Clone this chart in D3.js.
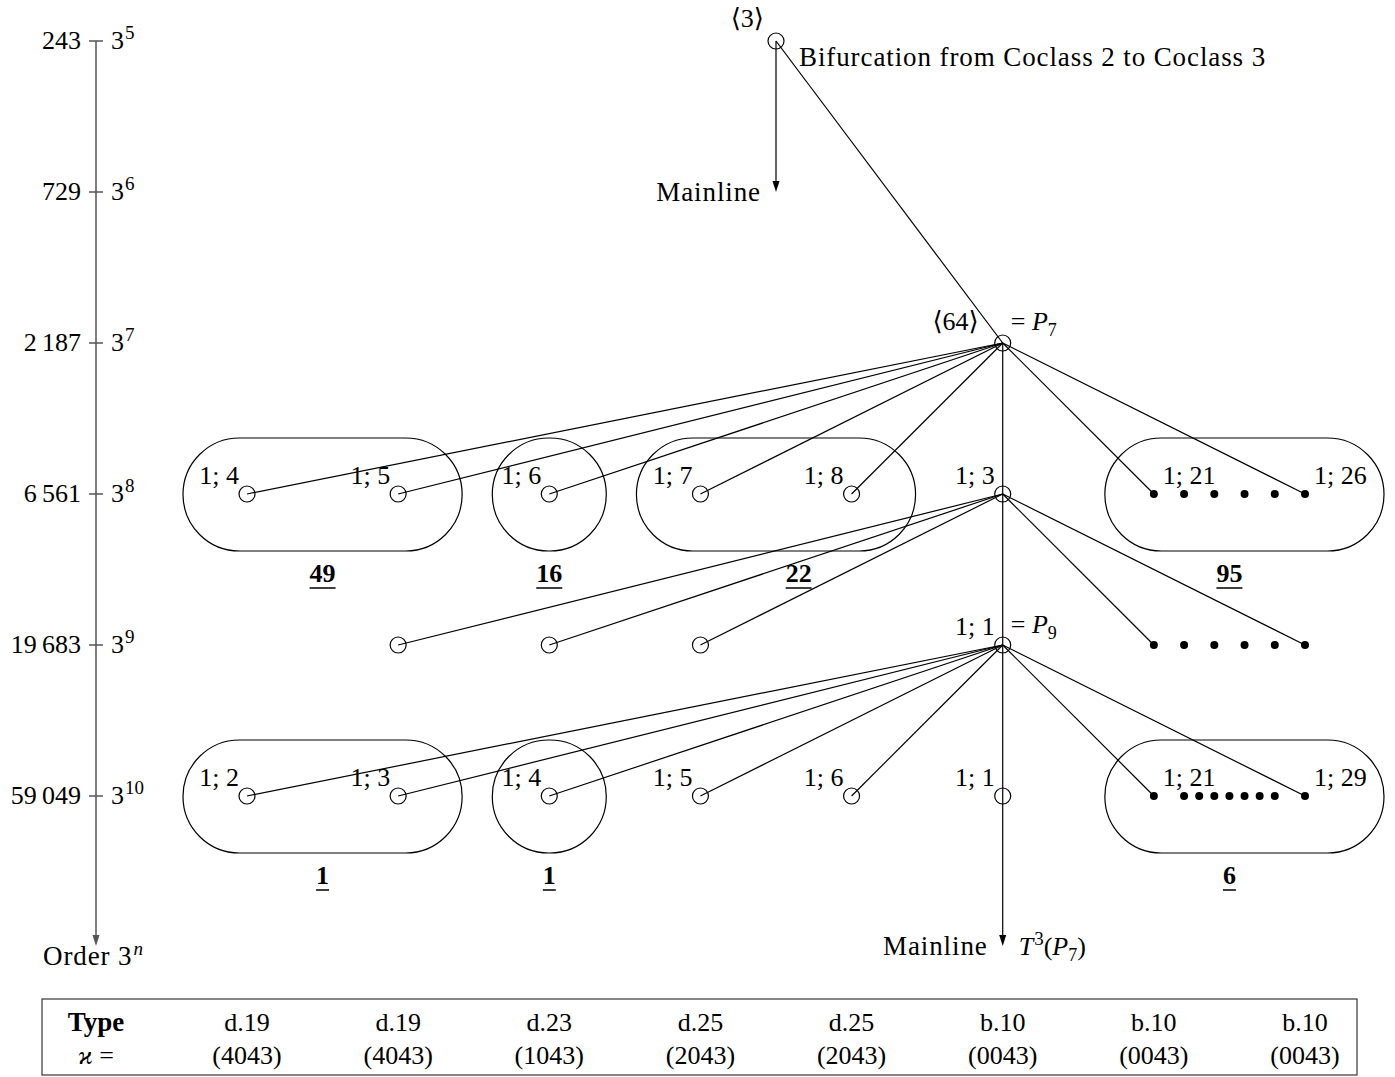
<!DOCTYPE html>
<meta charset="utf-8">
<head>
<style>
body { margin: 0; background: #fff; }
text {
  font-family: "Liberation Serif", "Times New Roman", "DejaVu Serif", serif;
  font-size: 26px;
  fill: #000;
}
.word { font-size: 27px; letter-spacing: 0.9px; }
.edge { stroke: #000; stroke-width: 1.2px; fill: none; }
.axis { stroke: #555; stroke-width: 1.5px; fill: none; }
.group { fill: none; stroke: #000; stroke-width: 1.2px; }
.node { fill: none; stroke: #000; stroke-width: 1.2px; }
.dot { fill: #000; }
.bold { font-weight: bold; }
</style>
<script src="https://cdn.jsdelivr.net/npm/d3@7"></script>
</head>
<body>
<svg id="chart" width="1395" height="1077"></svg>
<script>

// order levels 3^n and their values
var orderExp = [5, 6, 7, 8, 9, 10];
var orderNum = ["243", "729", "2\u2009187", "6\u2009561", "19\u2009683", "59\u2009049"];

// table below the tree, one entry per column
var typeNames = ["d.19", "d.19", "d.23", "d.25", "d.25", "b.10", "b.10", "b.10"];
var kappaVals = ["(4043)", "(4043)", "(1043)", "(2043)", "(2043)", "(0043)", "(0043)", "(0043)"];

// vertices: column, level (exponent), kind, label
var nodes = [
  {id: "C3",  col: 3.5, lev: 5,  kind: "open"},
  {id: "P7",  col: 5,   lev: 7,  kind: "open"},
  {id: "a4",  col: 0,   lev: 8,  kind: "open", label: "1; 4"},
  {id: "a5",  col: 1,   lev: 8,  kind: "open", label: "1; 5"},
  {id: "a6",  col: 2,   lev: 8,  kind: "open", label: "1; 6"},
  {id: "a7",  col: 3,   lev: 8,  kind: "open", label: "1; 7"},
  {id: "a8",  col: 4,   lev: 8,  kind: "open", label: "1; 8"},
  {id: "a3",  col: 5,   lev: 8,  kind: "open", label: "1; 3"},
  {id: "a21", col: 6,   lev: 8,  kind: "dot",  label: "1; 21"},
  {id: "a26", col: 7,   lev: 8,  kind: "dot",  label: "1; 26"},
  {id: "b1",  col: 1,   lev: 9,  kind: "open"},
  {id: "b2",  col: 2,   lev: 9,  kind: "open"},
  {id: "b3",  col: 3,   lev: 9,  kind: "open"},
  {id: "P9",  col: 5,   lev: 9,  kind: "open", label: "1; 1"},
  {id: "b6",  col: 6,   lev: 9,  kind: "dot"},
  {id: "b7",  col: 7,   lev: 9,  kind: "dot"},
  {id: "c2",  col: 0,   lev: 10, kind: "open", label: "1; 2"},
  {id: "c3",  col: 1,   lev: 10, kind: "open", label: "1; 3"},
  {id: "c4",  col: 2,   lev: 10, kind: "open", label: "1; 4"},
  {id: "c5",  col: 3,   lev: 10, kind: "open", label: "1; 5"},
  {id: "c6",  col: 4,   lev: 10, kind: "open", label: "1; 6"},
  {id: "c1",  col: 5,   lev: 10, kind: "open", label: "1; 1"},
  {id: "c21", col: 6,   lev: 10, kind: "dot",  label: "1; 21"},
  {id: "c29", col: 7,   lev: 10, kind: "dot",  label: "1; 29"}
];

// the "..." dots between the first and last descendant
var dotCols8 = [6.2, 6.4, 6.6, 6.8];
var dotCols9 = [6.2, 6.4, 6.6, 6.8];
var dotCols10 = [6.2, 6.3, 6.4, 6.5, 6.6, 6.7, 6.8];

var edges = [
  ["C3", "P7"],
  ["P7", "a4"], ["P7", "a5"], ["P7", "a6"], ["P7", "a7"], ["P7", "a8"],
  ["P7", "a3"], ["P7", "a21"], ["P7", "a26"],
  ["a3", "b1"], ["a3", "b2"], ["a3", "b3"], ["a3", "P9"], ["a3", "b6"], ["a3", "b7"],
  ["P9", "c2"], ["P9", "c3"], ["P9", "c4"], ["P9", "c5"], ["P9", "c6"],
  ["P9", "c1"], ["P9", "c21"], ["P9", "c29"]
];

// encircled families with their counts
var groups = [
  {c0: 0, c1: 1, lev: 8,  count: "49", countCol: 0.5},
  {c0: 2, c1: 2, lev: 8,  count: "16", countCol: 2},
  {c0: 3, c1: 4, lev: 8,  count: "22", countCol: 3.65},
  {c0: 6, c1: 7, lev: 8,  count: "95", countCol: 6.5, dots: true},
  {c0: 0, c1: 1, lev: 10, count: "1",  countCol: 0.5},
  {c0: 2, c1: 2, lev: 10, count: "1",  countCol: 2},
  {c0: 6, c1: 7, lev: 10, count: "6",  countCol: 6.5, dots: true}
];

var svg = d3.select("#chart");

var x = d3.scaleLinear().domain([0, 7]).range([247, 1305]);
var y = d3.scaleLinear().domain([5, 10]).range([41, 796]);

var byId = {};
nodes.forEach(function(d) { byId[d.id] = d; });

function arrowHead(g, cx, tipY, cls) {
  g.append("path")
    .attr("d", "M" + cx + "," + tipY + " L" + (cx - 3.5) + "," + (tipY - 11) + " L" + (cx + 3.5) + "," + (tipY - 11) + " Z")
    .attr("fill", cls == "axis" ? "#555" : "#000");
}

function supText(sel, base, sup, italicSup) {
  sel.append("tspan").text(base);
  sel.append("tspan").attr("dy", -10).attr("dx", 1).style("font-size", "19px")
    .style("font-style", italicSup ? "italic" : null).text(sup);
}

////Order axis on the left
var axisG = svg.append("g");
axisG.append("line").attr("class", "axis")
  .attr("x1", 96).attr("x2", 96).attr("y1", y(5)).attr("y2", 940);
arrowHead(axisG, 96, 946, "axis");
orderExp.forEach(function(e, i) {
  axisG.append("line").attr("class", "axis")
    .attr("x1", 89).attr("x2", 103).attr("y1", y(e)).attr("y2", y(e));
  axisG.append("text").attr("x", 81).attr("y", y(e) + 8)
    .attr("text-anchor", "end").text(orderNum[i]);
  supText(axisG.append("text").attr("x", 111).attr("y", y(e) + 8), "3", e);
});
supText(axisG.append("text").attr("class", "word").attr("x", 43).attr("y", 965), "Order 3", "n", true);

////Families (stadium shapes)
function padL(d) { return d.dots ? 49 : (d.c0 == d.c1 ? 57 : 64); }
function padR(d) { return d.dots ? 79 : (d.c0 == d.c1 ? 57 : 64); }

svg.selectAll(".group")
  .data(groups)
  .enter()
  .append("rect")
    .attr("class", "group")
    .attr("x", function(d) { return x(d.c0) - padL(d); })
    .attr("width", function(d) { return x(d.c1) + padR(d) - x(d.c0) + padL(d); })
    .attr("y", function(d) { return y(d.lev) - 56; })
    .attr("height", 113)
    .attr("rx", 56.5).attr("ry", 56.5);

svg.selectAll(".count")
  .data(groups)
  .enter()
  .append("text")
    .attr("class", "count bold")
    .attr("x", function(d) { return x(d.countCol); })
    .attr("y", function(d) { return y(d.lev) + 88; })
    .attr("text-anchor", "middle")
    .text(function(d) { return d.count; })
    .each(function(d) {
      var b = this.getBBox();
      svg.append("line")
        .attr("x1", b.x).attr("x2", b.x + b.width)
        .attr("y1", y(d.lev) + 94).attr("y2", y(d.lev) + 94)
        .attr("stroke", "#000").attr("stroke-width", 1.5);
    });

////Edges
svg.selectAll(".edge")
  .data(edges)
  .enter()
  .append("line")
    .attr("class", "edge")
    .attr("x1", function(d) { return x(byId[d[0]].col); })
    .attr("y1", function(d) { return y(byId[d[0]].lev); })
    .attr("x2", function(d) { return x(byId[d[1]].col); })
    .attr("y2", function(d) { return y(byId[d[1]].lev); });

// mainline arrows
var mainG = svg.append("g");
mainG.append("line").attr("class", "edge")
  .attr("x1", x(3.5)).attr("x2", x(3.5)).attr("y1", y(5)).attr("y2", y(6) - 6);
arrowHead(mainG, x(3.5), y(6));
mainG.append("line").attr("class", "edge")
  .attr("x1", x(5)).attr("x2", x(5)).attr("y1", y(10)).attr("y2", 940);
arrowHead(mainG, x(5), 946);

////Vertices
svg.selectAll(".node")
  .data(nodes.filter(function(d) { return d.kind == "open"; }))
  .enter()
  .append("circle")
    .attr("class", "node")
    .attr("cx", function(d) { return x(d.col); })
    .attr("cy", function(d) { return y(d.lev); })
    .attr("r", 8);

var dotData = nodes.filter(function(d) { return d.kind == "dot"; })
  .concat(dotCols8.map(function(c) { return {col: c, lev: 8}; }))
  .concat(dotCols9.map(function(c) { return {col: c, lev: 9}; }))
  .concat(dotCols10.map(function(c) { return {col: c, lev: 10}; }));
svg.selectAll(".dot")
  .data(dotData)
  .enter()
  .append("circle")
    .attr("class", "dot")
    .attr("cx", function(d) { return x(d.col); })
    .attr("cy", function(d) { return y(d.lev); })
    .attr("r", 4);

////Vertex labels
svg.selectAll(".lbl")
  .data(nodes.filter(function(d) { return d.label; }))
  .enter()
  .append("text")
    .attr("class", "lbl")
    .attr("x", function(d) { return d.kind == "dot" ? x(d.col) + 9 : x(d.col) - 8; })
    .attr("y", function(d) { return y(d.lev) - 10; })
    .attr("text-anchor", function(d) { return d.kind == "dot" ? "start" : "end"; })
    .text(function(d) { return d.label; });

function pSub(sel, sub) {
  sel.append("tspan").style("font-style", "italic").text("P");
  sel.append("tspan").attr("dy", 6).style("font-size", "18px").text(sub);
}

svg.append("text").attr("x", x(3.5) - 12).attr("y", y(5) - 14)
  .attr("text-anchor", "end").text("\u27E83\u27E9");
svg.append("text").attr("class", "word").attr("x", x(3.5) + 23).attr("y", y(5) + 25)
  .text("Bifurcation from Coclass 2 to Coclass 3");
svg.append("text").attr("class", "word").attr("x", x(3.5) - 15).attr("y", y(6) + 9)
  .attr("text-anchor", "end").text("Mainline");

svg.append("text").attr("x", x(5) - 24).attr("y", y(7) - 13)
  .attr("text-anchor", "end").text("\u27E864\u27E9");
var t7 = svg.append("text").attr("x", x(5) + 8).attr("y", y(7) - 13);
t7.append("tspan").text("= ");
pSub(t7, "7");

var t9 = svg.append("text").attr("x", x(5) + 8).attr("y", y(9) - 12);
t9.append("tspan").text("= ");
pSub(t9, "9");

svg.append("text").attr("class", "word").attr("x", x(5) - 15).attr("y", 955)
  .attr("text-anchor", "end").text("Mainline");
var tt = svg.append("text").attr("x", x(5) + 16).attr("y", 955);
tt.append("tspan").style("font-style", "italic").text("T");
tt.append("tspan").attr("dy", -10).attr("dx", 1).style("font-size", "19px").text("3");
tt.append("tspan").attr("dy", 10).text("(");
pSub(tt, "7");
tt.append("tspan").attr("dy", -6).text(")");

////Table
var tab = svg.append("g");
tab.append("rect")
  .attr("x", 42).attr("y", 999).attr("width", 1315).attr("height", 76)
  .attr("fill", "none").attr("stroke", "#444").attr("stroke-width", 1.3);
tab.append("text").attr("class", "bold").attr("x", 96).attr("y", 1031)
  .attr("text-anchor", "middle").style("font-size", "27px").text("Type");
tab.append("text").attr("x", 96).attr("y", 1064)
  .attr("text-anchor", "middle").html("<tspan font-style='italic'>\u03F0</tspan> =");
tab.selectAll(".tname")
  .data(typeNames)
  .enter()
  .append("text")
    .attr("x", function(d, i) { return x(i); })
    .attr("y", 1031)
    .attr("text-anchor", "middle")
    .text(function(d) { return d; });
tab.selectAll(".kval")
  .data(kappaVals)
  .enter()
  .append("text")
    .attr("x", function(d, i) { return x(i); })
    .attr("y", 1064)
    .attr("text-anchor", "middle")
    .text(function(d) { return d; });

</script>
</body>
</html>
